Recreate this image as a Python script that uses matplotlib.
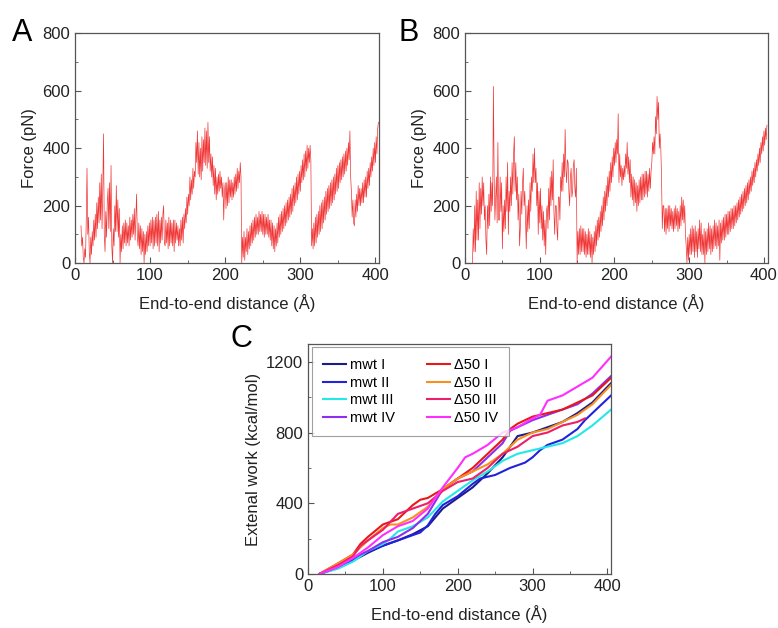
import numpy as np
import matplotlib
matplotlib.use("Agg")
import matplotlib.pyplot as plt
from matplotlib.ticker import MultipleLocator

force_a_start = 8
force_a = [130, 60, 90, 20, 0, 50, 20, 150, 330, 100, 160, 40, 0, 90, 30, 110, 60, 150, 80, 170,
           90, 210, 120, 230, 140, 280, 150, 310, 120, 260, 450, 100, 40, 180, 90, 210, 260, 120, 280, 110,
           340, 60, 0, 120, 60, 200, 110, 270, 110, 220, 90, 190, 0, 100, 40, 130, 50, 140, 70, 150,
           60, 140, 70, 130, 60, 160, 80, 150, 90, 170, 100, 190, 80, 160, 240, 90, 60, 140, 50, 130,
           30, 120, 40, 110, 0, 100, 30, 110, 40, 130, 60, 140, 60, 150, 70, 160, 50, 150, 60, 160,
           70, 170, 60, 180, 40, 150, 70, 160, 80, 170, 200, 70, 60, 150, 70, 140, 50, 160, 60, 150,
           70, 140, 60, 150, 40, 150, 70, 140, 80, 130, 60, 120, 60, 150, 80, 160, 70, 170, 120, 190,
           140, 230, 170, 240, 200, 300, 220, 290, 240, 330, 260, 320, 300, 420, 350, 460, 310, 420, 300, 400,
           290, 440, 320, 430, 350, 470, 340, 460, 330, 490, 350, 440, 320, 380, 300, 370, 270, 340, 240, 330,
           220, 300, 240, 310, 250, 320, 260, 300, 230, 280, 150, 250, 280, 190, 280, 200, 300, 210, 290, 230,
           290, 220, 280, 230, 300, 240, 310, 250, 330, 260, 320, 280, 350, 300, 0, 90, 20, 110, 10, 90,
           40, 120, 30, 110, 50, 130, 60, 140, 70, 150, 80, 160, 90, 170, 100, 160, 100, 180, 110, 170,
           110, 180, 100, 170, 90, 170, 100, 160, 100, 170, 90, 150, 80, 150, 60, 140, 50, 130, 40, 120,
           60, 140, 70, 160, 90, 170, 100, 180, 110, 190, 120, 200, 130, 210, 140, 220, 150, 230, 160, 240,
           170, 260, 180, 270, 200, 280, 210, 300, 220, 310, 240, 320, 250, 340, 280, 360, 290, 380, 300, 390,
           320, 410, 330, 400, 350, 410, 360, 60, 120, 50, 140, 60, 160, 70, 170, 90, 180, 100, 200, 110,
           210, 120, 220, 140, 230, 150, 250, 170, 260, 180, 270, 190, 280, 200, 290, 210, 300, 220, 310, 240,
           330, 250, 340, 260, 350, 280, 360, 290, 370, 300, 380, 310, 390, 320, 400, 340, 420, 360, 460, 300,
           250, 160, 220, 140, 130, 220, 160, 240, 180, 270, 200, 260, 200, 260, 210, 280, 210, 290, 230, 300,
           230, 320, 260, 330, 270, 350, 300, 370, 320, 400, 340, 420, 350, 440, 380, 470, 490]

force_b_start = 10
force_b = [0, 120, 40, 200, 40, 250, 80, 220, 80, 280, 120, 260, 170, 300, 200, 280, 150, 200, 80, 30,
           200, 120, 240, 130, 300, 180, 280, 200, 615, 300, 150, 220, 300, 140, 420, 150, 150, 300, 180, 280,
           50, 200, 110, 220, 120, 300, 180, 350, 100, 250, 180, 300, 200, 350, 240, 380, 440, 250, 350, 220,
           300, 150, 240, 60, 120, 250, 170, 280, 330, 200, 250, 150, 50, 200, 110, 220, 120, 280, 180, 300,
           250, 380, 280, 400, 280, 330, 200, 280, 100, 250, 140, 260, 120, 200, 80, 180, 60, 150, 30, 180,
           200, 120, 260, 150, 300, 200, 320, 220, 360, 180, 100, 200, 200, 120, 80, 230, 230, 150, 300, 250,
           350, 250, 380, 300, 465, 330, 280, 360, 350, 250, 200, 300, 330, 230, 250, 340, 360, 260, 230, 330,
           0, 110, 30, 120, 30, 130, 40, 120, 40, 120, 30, 110, 20, 100, 30, 120, 30, 110, 20, 100,
           0, 90, 30, 110, 40, 130, 60, 150, 80, 160, 90, 180, 110, 200, 130, 230, 150, 250, 180, 270,
           200, 300, 230, 320, 250, 350, 280, 370, 300, 400, 340, 420, 350, 430, 380, 520, 280, 380, 300, 340,
           270, 330, 290, 340, 300, 380, 330, 420, 310, 370, 280, 360, 230, 310, 220, 300, 200, 290, 210, 280,
           180, 270, 200, 290, 210, 300, 220, 310, 220, 310, 230, 320, 240, 320, 230, 310, 250, 330, 260, 320,
           350, 420, 380, 440, 380, 510, 450, 580, 500, 560, 400, 450, 400, 300, 120, 200, 200, 110, 190, 100,
           190, 120, 200, 110, 200, 130, 190, 120, 180, 110, 190, 120, 200, 130, 190, 110, 180, 120, 200, 130,
           230, 150, 220, 140, 200, 100, 60, 0, 90, 10, 100, 30, 120, 30, 130, 40, 120, 20, 130, 40,
           110, 20, 120, 50, 150, 40, 140, 30, 100, 30, 120, 0, 110, 30, 120, 40, 140, 50, 130, 30,
           120, 40, 130, 50, 150, 60, 140, 50, 130, 60, 150, 10, 140, 70, 150, 80, 160, 80, 170, 90,
           170, 100, 180, 100, 180, 110, 190, 120, 190, 120, 200, 130, 200, 140, 210, 150, 220, 160, 230, 170,
           240, 180, 250, 190, 260, 200, 270, 210, 280, 220, 290, 240, 300, 250, 320, 270, 330, 280, 350, 300,
           360, 320, 380, 340, 400, 350, 420, 380, 440, 390, 460, 410, 470, 430, 480]

# external work curves, panel C
mwt1_x = [15, 40, 60, 80, 100, 120, 140, 160, 180, 200, 220, 240, 260, 280, 300, 320, 340, 360, 380, 405]
mwt1_y = [0, 35, 75, 120, 160, 190, 225, 270, 370, 430, 490, 570, 660, 780, 800, 830, 860, 910, 970, 1080]
mwt2_x = [15, 40, 60, 80, 100, 120, 140, 150, 160, 170, 180, 200, 220, 230, 250, 270, 290, 300, 310, 320, 340, 360, 370, 380, 405]
mwt2_y = [0, 35, 80, 125, 160, 190, 220, 235, 275, 340, 390, 440, 510, 540, 560, 600, 630, 660, 700, 730, 760, 820, 870, 910, 1010]
mwt3_x = [15, 40, 60, 80, 100, 110, 120, 140, 160, 180, 200, 220, 240, 260, 280, 300, 320, 340, 360, 380, 405]
mwt3_y = [0, 30, 70, 130, 170, 200, 240, 270, 320, 410, 470, 530, 580, 640, 680, 700, 720, 740, 780, 840, 930]
mwt4_x = [15, 40, 60, 80, 100, 120, 140, 160, 180, 190, 200, 220, 240, 260, 270, 280, 300, 320, 340, 360, 380, 405]
mwt4_y = [0, 40, 90, 130, 180, 210, 260, 340, 480, 510, 540, 580, 660, 740, 810, 830, 870, 900, 930, 960, 1020, 1120]
d50_1_x = [15, 40, 60, 70, 80, 100, 120, 140, 150, 160, 180, 200, 220, 240, 260, 270, 280, 300, 320, 340, 360, 380, 405]
d50_1_y = [0, 60, 110, 170, 210, 280, 310, 390, 420, 430, 480, 540, 600, 680, 760, 820, 850, 890, 910, 930, 970, 1010, 1110]
d50_2_x = [15, 40, 60, 80, 100, 110, 120, 140, 160, 180, 200, 220, 240, 260, 280, 300, 320, 340, 360, 380, 405]
d50_2_y = [0, 60, 110, 190, 260, 280, 280, 320, 380, 480, 540, 580, 620, 680, 760, 800, 820, 860, 900, 960, 1070]
d50_3_x = [15, 40, 60, 70, 80, 100, 120, 140, 160, 180, 200, 220, 240, 260, 280, 300, 320, 340, 360, 370]
d50_3_y = [0, 50, 100, 160, 190, 250, 340, 370, 400, 470, 520, 540, 600, 680, 720, 780, 800, 840, 860, 880]
d50_4_x = [15, 40, 60, 80, 100, 120, 140, 160, 180, 200, 210, 220, 240, 260, 280, 300, 310, 320, 340, 360, 380, 405]
d50_4_y = [0, 40, 90, 150, 220, 270, 300, 370, 490, 600, 660, 680, 730, 800, 830, 880, 900, 980, 1010, 1060, 1110, 1230]

work_series = [
    (mwt1_x, mwt1_y, "mwt I", "#1c1c8a"),
    (mwt2_x, mwt2_y, "mwt II", "#2222dd"),
    (mwt3_x, mwt3_y, "mwt III", "#22e8e8"),
    (mwt4_x, mwt4_y, "mwt IV", "#8e2ef0"),
    (d50_1_x, d50_1_y, "\u039450 I", "#e81818"),
    (d50_2_x, d50_2_y, "\u039450 II", "#f7901e"),
    (d50_3_x, d50_3_y, "\u039450 III", "#ee1f6a"),
    (d50_4_x, d50_4_y, "\u039450 IV", "#ff2eff"),
]

plt.rcParams['font.family'] = ['Liberation Sans', 'DejaVu Sans']
plt.rcParams['font.size'] = 12

fig = plt.figure(figsize=(7.78, 6.28), dpi=100)
ax_a = fig.add_axes([0.0964, 0.581, 0.391, 0.366])
ax_b = fig.add_axes([0.5977, 0.581, 0.389, 0.366])
ax_c = fig.add_axes([0.396, 0.086, 0.3895, 0.366])


def style_axis(ax):
    for s in ax.spines.values():
        s.set_color("#555555")
        s.set_linewidth(0.9)
    ax.tick_params(which="both", direction="in", colors="#555555", labelcolor="#222222",
                   labelsize=12, top=False, right=False)
    ax.tick_params(which="major", length=4)
    ax.tick_params(which="minor", length=2)
    ax.xaxis.set_minor_locator(MultipleLocator(50))


for ax, start, ys in [(ax_a, force_a_start, force_a), (ax_b, force_b_start, force_b)]:
    xs = np.arange(start, start + len(ys))
    ax.plot(xs, ys, color="#ee1111", lw=0.5, alpha=0.85)
    ax.set_xlim(0, 405)
    ax.set_ylim(0, 800)
    ax.set_xticks([0, 100, 200, 300, 400])
    ax.set_yticks([0, 200, 400, 600, 800])
    ax.yaxis.set_minor_locator(MultipleLocator(100))
    ax.set_xlabel("End-to-end distance (\u00c5)", fontsize=12, color="#222222", labelpad=8)
    ax.set_ylabel("Force (pN)", fontsize=12, color="#222222")
    style_axis(ax)

for xs, ys, name, col in work_series:
    ax_c.plot(xs, ys, color=col, lw=1.5, label=name)
ax_c.set_xlim(0, 405)
ax_c.set_ylim(0, 1300)
ax_c.set_xticks([0, 100, 200, 300, 400])
ax_c.set_yticks([0, 400, 800, 1200])
ax_c.yaxis.set_minor_locator(MultipleLocator(200))
ax_c.set_xlabel("End-to-end distance (\u00c5)", fontsize=12, color="#222222", labelpad=8)
ax_c.set_ylabel("Extenal work (kcal/mol)", fontsize=12, color="#222222")
style_axis(ax_c)
leg = ax_c.legend(loc="upper left", ncol=2, fontsize=10.5, frameon=True, fancybox=False,
                  edgecolor="#888888", handlelength=1.6, handletextpad=0.25, columnspacing=2.2,
                  labelspacing=0.25, borderpad=0.75, borderaxespad=0,
                  bbox_to_anchor=(0.013, 0.987))
leg.get_frame().set_linewidth(0.8)

fig.text(0.015, 0.935, "A", fontsize=22)
fig.text(0.512, 0.935, "B", fontsize=22)
fig.text(0.296, 0.447, "C", fontsize=22)

fig.savefig("out.png", dpi=100)
